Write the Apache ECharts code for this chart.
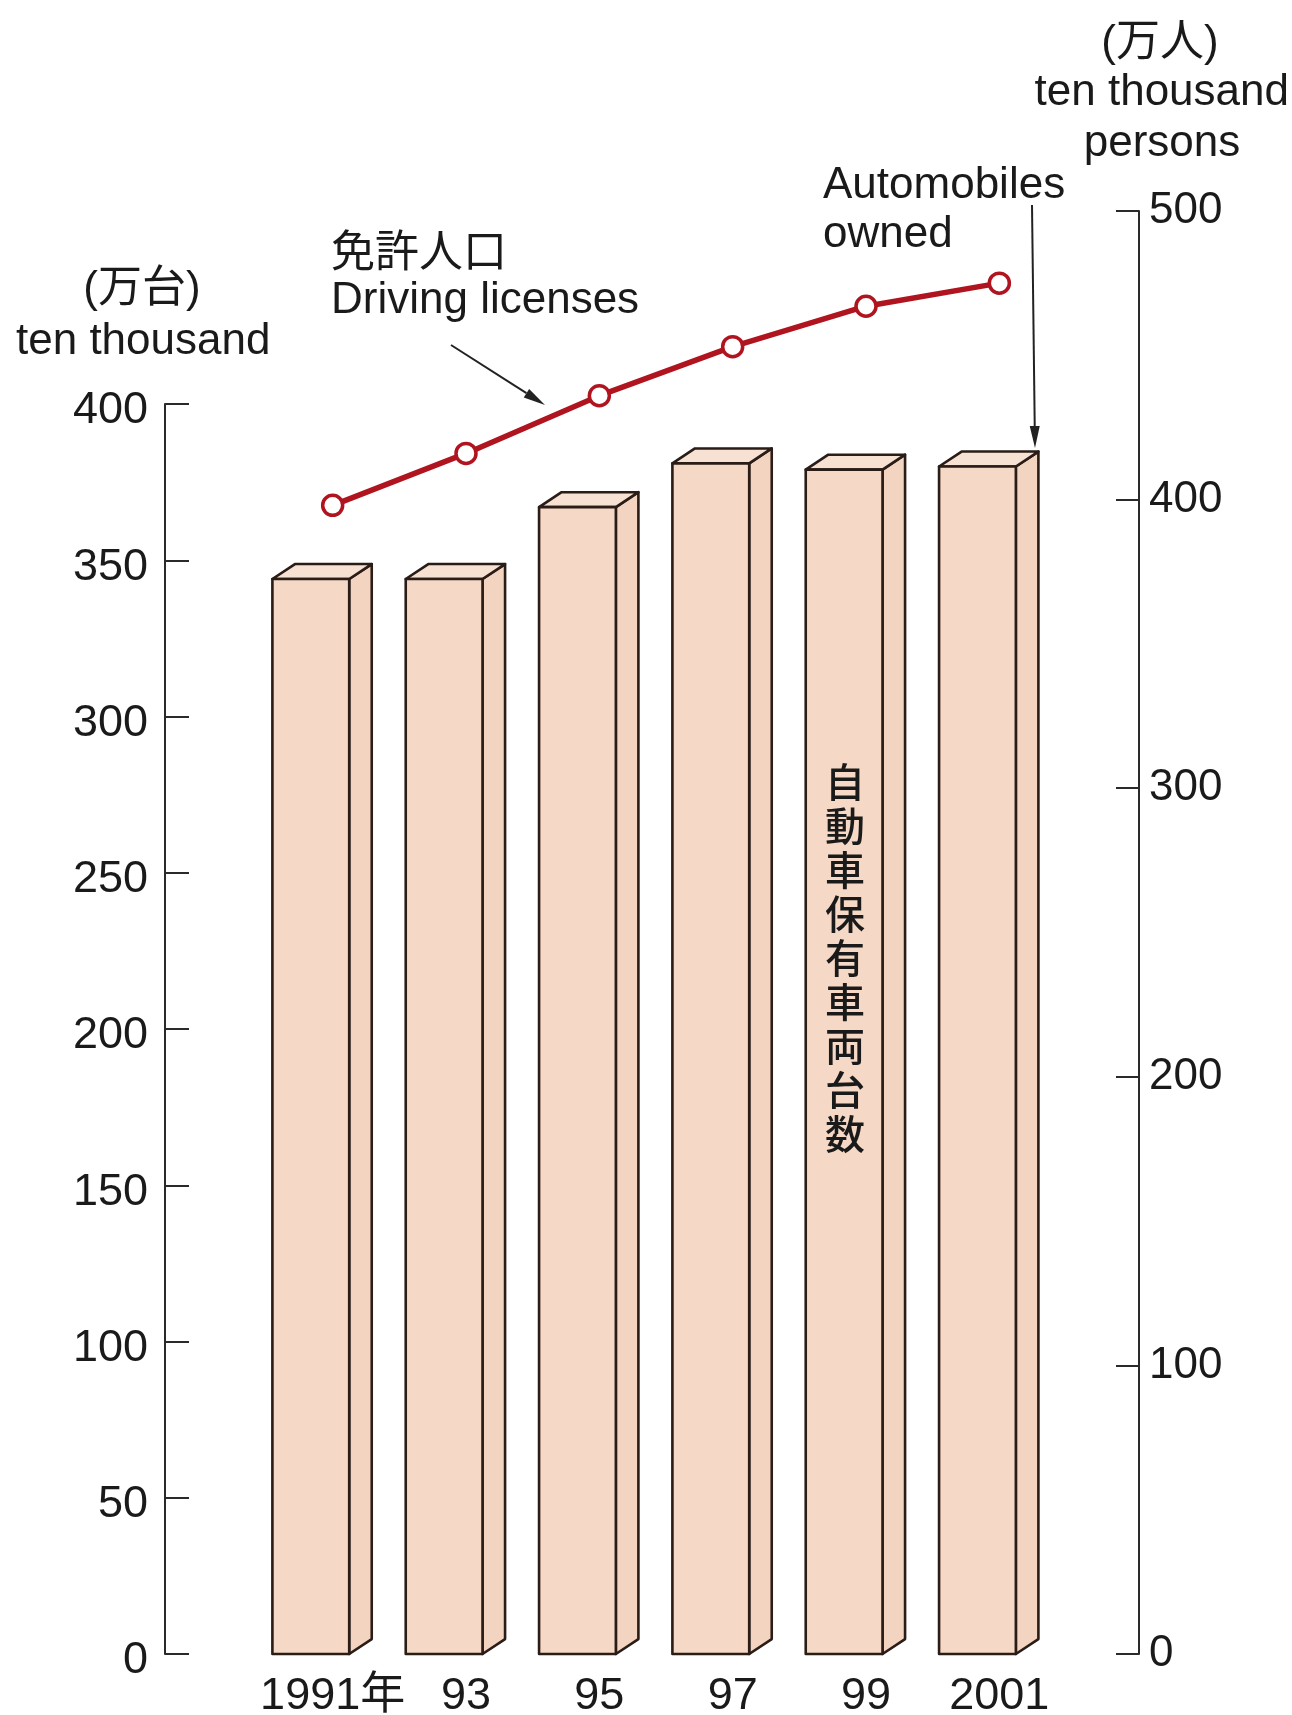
<!DOCTYPE html>
<html>
<head>
<meta charset="utf-8">
<script src="https://cdn.jsdelivr.net/npm/echarts@6/dist/echarts.min.js"></script>
<style>
html,body{margin:0;padding:0;background:#fff;}
#chart{width:1292px;height:1715px;}
</style>
</head>
<body>
<div id="chart"></div>
<script>
// ---- data ----
const years = ['1991年', '93', '95', '97', '99', '2001'];
const automobiles = [344, 344, 367, 381, 379, 380];       // 万台 (left axis)
const drivingLicenses = [398, 416, 436, 453, 467, 475];    // 万人 (right axis)
const leftTicks = {min: 0, max: 400, interval: 50};
const rightTicks = {min: 0, max: 500, interval: 100};

const FONT = '"Liberation Sans", Arial, "Noto Sans CJK JP", sans-serif';
const CJK = '"Noto Sans CJK JP", sans-serif';
const BAR_FILL = '#f5d8c5';
const BAR_TOP = '#f7e1d2';
const BAR_SIDE = '#f3d4c0';
const EDGE = '#2a1c16';
const RED = '#b0141f';

const chart = echarts.init(document.getElementById('chart'), null, {renderer: 'canvas'});

function arrow(x1, y1, x2, y2) {
  const ang = Math.atan2(y2 - y1, x2 - x1);
  const L = 22, W = 5;
  const bx = x2 - L * Math.cos(ang), by = y2 - L * Math.sin(ang);
  const px = -Math.sin(ang) * W, py = Math.cos(ang) * W;
  return [
    {type: 'line', shape: {x1, y1, x2: bx, y2: by}, style: {stroke: '#222', lineWidth: 2}, z: 10},
    {type: 'polygon', shape: {points: [[x2, y2], [bx + px, by + py], [bx - px, by - py]]}, style: {fill: '#222'}, z: 10}
  ];
}

function txt(text, x, y, align, font, extra) {
  return Object.assign({
    type: 'text', z: 10,
    style: {text, x, y, textAlign: align, textVerticalAlign: 'middle', fill: '#1a1a1a', font}
  }, extra || {});
}

const option = {
  backgroundColor: '#ffffff',
  animation: false,
  grid: [
    {left: 266, right: 226, top: 404, bottom: 61, containLabel: false, outerBoundsMode: 'none'},
    {left: 266, right: 226, top: 211, bottom: 61, containLabel: false, outerBoundsMode: 'none'}
  ],
  xAxis: [
    {
      type: 'category', gridIndex: 0, data: years, boundaryGap: true,
      axisLine: {show: false}, axisTick: {show: false},
      axisLabel: {interval: 0, hideOverlap: false, margin: 20, fontSize: 45, color: '#1a1a1a', fontFamily: FONT}
    },
    {
      type: 'category', gridIndex: 1, data: years, boundaryGap: true, show: false
    }
  ],
  yAxis: [
    {
      type: 'value', gridIndex: 0, position: 'left', offset: 101,
      min: leftTicks.min, max: leftTicks.max, interval: leftTicks.interval,
      splitLine: {show: false},
      axisLine: {show: true, lineStyle: {color: '#2a2a2a', width: 2}},
      axisTick: {show: true, inside: true, length: 24, lineStyle: {color: '#2a2a2a', width: 2}},
      axisLabel: {
        margin: 17, color: '#1a1a1a',
        formatter: '{a|{value}}',
        rich: {a: {fontSize: 45, fontFamily: FONT, color: '#1a1a1a', padding: [14, 0, 0, 0]}}
      }
    },
    {
      type: 'value', gridIndex: 1, position: 'right', offset: 73,
      min: rightTicks.min, max: rightTicks.max, interval: rightTicks.interval,
      splitLine: {show: false},
      axisLine: {show: true, lineStyle: {color: '#2a2a2a', width: 2}},
      axisTick: {show: true, inside: true, length: 23, lineStyle: {color: '#2a2a2a', width: 2}},
      axisLabel: {margin: 10, fontSize: 44, color: '#1a1a1a', fontFamily: FONT}
    }
  ],
  series: [
    {
      name: '自動車保有車両台数',
      type: 'custom',
      xAxisIndex: 0, yAxisIndex: 0,
      data: automobiles.map((v, i) => [i, v]),
      renderItem: function (params, api) {
        const idx = api.value(0), v = api.value(1);
        const top = api.coord([idx, v]);
        const base = api.coord([idx, 0]);
        const band = api.size([1, 0])[0];
        const xl = top[0] - band * 0.452;
        const xr = top[0] + band * 0.124;
        const dx = band * 0.169, dy = -band * 0.112;
        const yt = top[1], yb = base[1];
        const st = {stroke: EDGE, lineWidth: 2.6, lineJoin: 'round'};
        return {
          type: 'group',
          children: [
            {type: 'polygon', shape: {points: [[xr, yt], [xr + dx, yt + dy], [xr + dx, yb + dy], [xr, yb]]},
             style: Object.assign({fill: BAR_SIDE}, st)},
            {type: 'polygon', shape: {points: [[xl, yt], [xl + dx, yt + dy], [xr + dx, yt + dy], [xr, yt]]},
             style: Object.assign({fill: BAR_TOP}, st)},
            {type: 'polygon', shape: {points: [[xl, yt], [xr, yt], [xr, yb], [xl, yb]]},
             style: Object.assign({fill: BAR_FILL}, st)}
          ]
        };
      },
      z: 2
    },
    {
      name: '免許人口',
      type: 'line',
      xAxisIndex: 1, yAxisIndex: 1,
      data: drivingLicenses,
      symbol: 'circle', symbolSize: 20,
      lineStyle: {color: RED, width: 5.5},
      itemStyle: {color: '#ffffff', borderColor: RED, borderWidth: 3.5},
      z: 5
    }
  ],
  graphic: [
    txt('(万台)', 142, 290, 'center', '44px ' + FONT),
    txt('ten thousand', 16, 342, 'left', '44px ' + FONT),
    txt('(万人)', 1160, 44, 'center', '44px ' + FONT),
    txt('ten thousand', 1289, 93, 'right', '44px ' + FONT),
    txt('persons', 1162, 144, 'center', '44px ' + FONT),
    txt('免許人口', 331, 250, 'left', '44px ' + CJK),
    txt('Driving licenses', 331, 301, 'left', '44px ' + FONT),
    txt('Automobiles', 823, 186, 'left', '44px ' + FONT),
    txt('owned', 823, 235, 'left', '44px ' + FONT),
    {
      type: 'text', z: 10,
      style: {
        text: '自\n動\n車\n保\n有\n車\n両\n台\n数',
        x: 845, y: 958, textAlign: 'center', textVerticalAlign: 'middle',
        fill: '#1a1a1a', font: '500 40px ' + CJK, lineHeight: 44
      }
    }
  ].concat(arrow(451, 345, 545, 405)).concat(arrow(1032, 205, 1035, 448))
};

chart.setOption(option);
</script>
</body>
</html>
